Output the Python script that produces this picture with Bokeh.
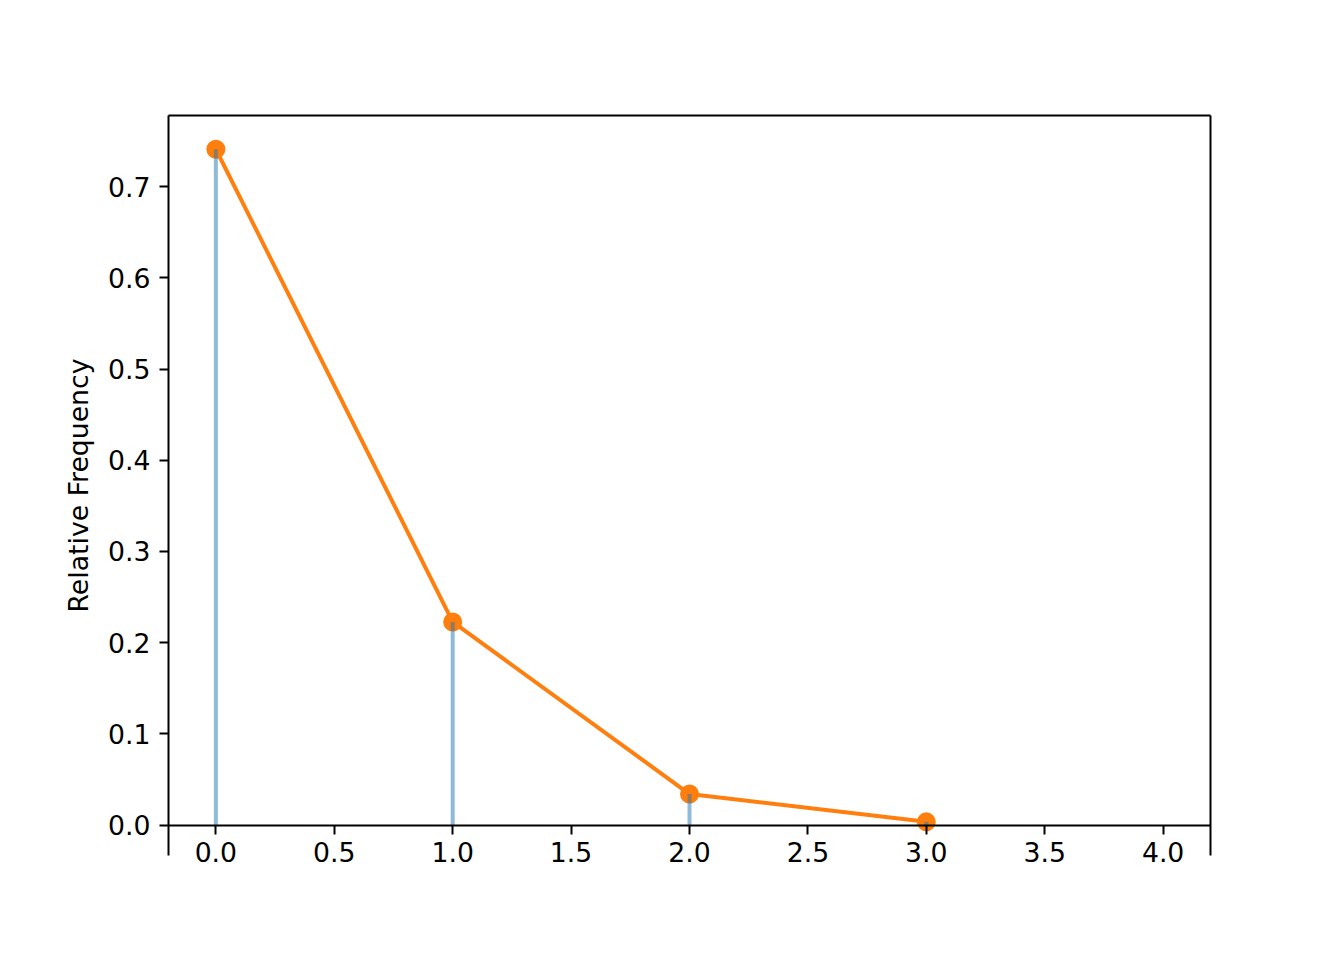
from bokeh.plotting import figure
from bokeh.models import Range1d, FixedTicker, LinearAxis, NumeralTickFormatter
from bokeh.embed import file_html
from bokeh.resources import INLINE

counts = [0, 1, 2, 3]
rel_freq = [0.741, 0.2227, 0.034, 0.0035]
x_ticks = [0.0, 0.5, 1.0, 1.5, 2.0, 2.5, 3.0, 3.5, 4.0]
y_ticks = [0.0, 0.1, 0.2, 0.3, 0.4, 0.5, 0.6, 0.7]

FONT = "DejaVu Sans"
FS = "26.7px"

p = figure(width=1328, height=944, output_backend="svg", toolbar_location=None,
           x_range=Range1d(-0.2, 4.2), y_range=Range1d(-0.0334, 0.778),
           x_axis_type=None,
           min_border_left=168, min_border_top=115, min_border_right=118, min_border_bottom=89)
p.outline_line_color = None
p.grid.visible = False
p.background_fill_color = "white"
p.border_fill_color = "white"

p.line(counts, rel_freq, line_color="#ff7f0e", line_width=4)
p.scatter(counts, rel_freq, size=17, fill_color="#ff7f0e", line_color="#ff7f0e", line_width=2)
p.segment(x0=counts, y0=[0] * len(counts), x1=counts, y1=rel_freq,
          line_color="#1f77b4", line_alpha=0.5, line_width=4)

# x axis spine at y = 0 (ticks only; labels drawn by a second axis below)
xa = LinearAxis(ticker=FixedTicker(ticks=x_ticks),
                major_label_overrides={t: "" for t in x_ticks},
                fixed_location=0, axis_line_width=2, major_tick_line_width=2,
                major_tick_out=9, major_tick_in=0, minor_tick_line_color=None)
p.add_layout(xa, "below")

xl = LinearAxis(ticker=FixedTicker(ticks=x_ticks), formatter=NumeralTickFormatter(format="0.0"),
                axis_line_color=None, major_tick_line_color=None, minor_tick_line_color=None,
                major_tick_out=0, major_tick_in=0, major_label_standoff=-14,
                major_label_text_font=FONT, major_label_text_font_size=FS,
                major_label_text_color="black")
p.add_layout(xl, "below")

ya = p.yaxis[0]
ya.ticker = FixedTicker(ticks=y_ticks)
ya.formatter = NumeralTickFormatter(format="0.0")
ya.axis_line_width = 2
ya.major_tick_line_width = 2
ya.major_tick_out = 9
ya.major_tick_in = 0
ya.minor_tick_line_color = None
ya.major_label_text_font = FONT
ya.major_label_text_font_size = FS
ya.major_label_text_color = "black"
ya.major_label_standoff = 9
ya.axis_label = "Relative Frequency"
ya.axis_label_text_font = FONT
ya.axis_label_text_font_size = FS
ya.axis_label_text_font_style = "normal"
ya.axis_label_text_color = "black"
ya.axis_label_standoff = 11

for side in ["right", "above"]:
    a = LinearAxis(ticker=FixedTicker(ticks=[]), axis_line_width=2,
                   major_tick_line_color=None, minor_tick_line_color=None)
    p.add_layout(a, side)

open("out.html", "w").write(file_html(p, INLINE))
